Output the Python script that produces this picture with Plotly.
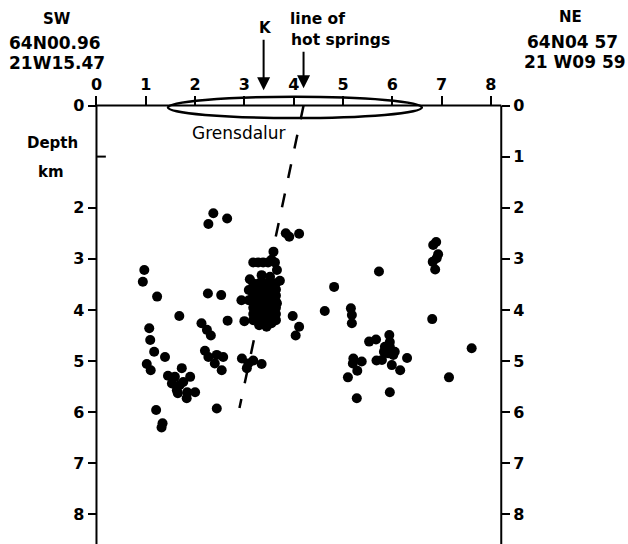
import plotly.graph_objects as go

# ---- data (km along profile, depth km) ----
dist_km = [
    2.37, 2.27, 2.65, 3.84, 3.91, 4.11, 0.97, 0.94, 1.23, 2.26, 2.53, 2.94,
    1.68, 2.13, 2.24, 2.32, 2.66, 3.00, 3.98, 4.11, 4.04, 1.07, 1.09, 1.17,
    1.39, 1.02, 1.10, 2.20, 2.27, 2.44, 2.57, 2.40, 2.54, 2.95, 3.08, 3.18,
    3.35, 3.05, 1.73, 1.59, 1.53, 1.63, 1.76, 1.90, 1.69, 1.83, 2.00, 1.45,
    1.65, 1.84, 1.21, 2.44, 1.34, 1.32,
    3.59, 3.55, 3.18, 3.28, 3.38, 3.48, 3.62, 3.66, 3.11, 3.35, 3.52, 3.72, 3.66,
    3.18, 3.30, 3.42, 3.54, 3.64,
    3.18, 3.30, 3.42, 3.54, 3.64,
    3.18, 3.30, 3.42, 3.54, 3.64,
    3.18, 3.30, 3.42, 3.54, 3.64,
    3.18, 3.30, 3.42, 3.54, 3.64,
    3.18, 3.30, 3.42, 3.54, 3.64,
    3.18, 3.30, 3.42, 3.54, 3.64,
    3.09, 3.09, 3.30, 3.45, 3.55,
    4.63, 4.82,
    6.83, 6.89, 6.93, 6.90, 6.82, 6.87, 5.73, 5.16, 5.18, 5.18, 6.81, 7.61,
    5.53, 5.67, 5.94, 5.85, 5.95, 6.05, 5.92, 6.02, 5.83, 5.95, 5.68, 5.79,
    6.30, 5.99, 6.16, 5.21, 5.20, 5.38, 5.29, 5.10, 7.15, 5.28, 5.95,
]
depth_km = [
    2.11, 2.32, 2.21, 2.50, 2.57, 2.51, 3.22, 3.45, 3.74, 3.68, 3.71, 3.81,
    4.12, 4.26, 4.39, 4.50, 4.21, 4.22, 4.12, 4.33, 4.50, 4.36, 4.59, 4.82,
    4.92, 5.06, 5.18, 4.80, 4.92, 4.88, 4.92, 5.05, 5.18, 4.95, 5.05, 4.99,
    5.06, 5.14, 5.14, 5.31, 5.44, 5.57, 5.41, 5.31, 5.47, 5.73, 5.61, 5.29,
    5.63, 5.61, 5.96, 5.93, 6.22, 6.30,
    2.86, 3.02, 3.07, 3.07, 3.07, 3.07, 3.07, 3.22, 3.40, 3.32, 3.35, 3.43, 3.87,
    3.48, 3.48, 3.48, 3.48, 3.48,
    3.60, 3.60, 3.60, 3.60, 3.60,
    3.72, 3.72, 3.72, 3.72, 3.72,
    3.84, 3.84, 3.84, 3.84, 3.84,
    3.96, 3.96, 3.96, 3.96, 3.96,
    4.08, 4.08, 4.08, 4.08, 4.08,
    4.20, 4.20, 4.20, 4.20, 4.20,
    3.61, 3.81, 4.30, 4.33, 4.26,
    4.02, 3.55,
    2.73, 2.67, 2.91, 2.99, 3.06, 3.21, 3.25, 3.97, 4.10, 4.26, 4.18, 4.75,
    4.62, 4.58, 4.49, 4.72, 4.72, 4.82, 4.85, 4.88, 4.82, 4.63, 4.99, 4.98,
    4.94, 5.08, 5.18, 4.95, 5.05, 5.01, 5.19, 5.32, 5.32, 5.73, 5.61,
]

top_tick_vals = [0, 1, 2, 3, 4, 5, 6, 7, 8]
top_tick_text = ["0", "1", "2", "3", "4", "5", "6", "7", "8"]
left_depth_vals = [0, 2, 3, 4, 5, 6, 7, 8]
left_depth_text = ["0", "2", "3", "4", "5", "6", "7", "8"]
right_depth_vals = [0, 1, 2, 3, 4, 5, 6, 7, 8]
right_depth_text = ["0", "1", "2", "3", "4", "5", "6", "7", "8"]

profile_end_km = 8.21
grensdalur_x = [1.45, 6.60]
grensdalur_y = [-0.17, 0.245]
fault_x = [4.20, 2.90]
fault_y = [0.0, 5.92]
k_km = 3.39
springs_km = 4.20

W, H = 628, 544
X_RANGE = [-1.957, 10.781]
Y_RANGE = [8.581, -2.0646]
FONT = "DejaVu Sans"


def pxx(v):
    return v / W


def pxy(v):
    return 1 - v / H


fig = go.Figure()
fig.add_trace(go.Scatter(x=dist_km, y=depth_km, mode="markers",
                         marker=dict(size=10, color="black", line=dict(width=0)),
                         showlegend=False, hoverinfo="skip"))
fig.add_trace(go.Scatter(x=[None], y=[None], yaxis="y2", showlegend=False))

tickfont = dict(family=FONT, size=16, color="black", weight="bold")
fig.update_layout(
    width=W, height=H, margin=dict(l=0, r=0, t=0, b=0),
    paper_bgcolor="white", plot_bgcolor="white", showlegend=False,
    xaxis=dict(range=X_RANGE, showgrid=False, zeroline=False, showline=False,
               side="top", anchor="free", position=pxy(105.5),
               ticks="outside", ticklen=10, tickwidth=2, tickcolor="black",
               tickvals=top_tick_vals, ticktext=top_tick_text, tickfont=tickfont,
               ticklabelstandoff=-1),
    yaxis=dict(range=Y_RANGE, showgrid=False, zeroline=False, showline=False,
               anchor="free", position=pxx(96.5), side="left",
               ticks="outside", ticklen=9, tickwidth=2, tickcolor="black",
               tickvals=left_depth_vals, ticktext=left_depth_text, tickfont=tickfont),
    yaxis2=dict(range=Y_RANGE, overlaying="y", showgrid=False, zeroline=False,
                showline=False, anchor="free", position=pxx(501), side="right",
                ticks="outside", ticklen=8, tickwidth=2, tickcolor="black",
                tickvals=right_depth_vals, ticktext=right_depth_text, tickfont=tickfont),
)

line = dict(color="black", width=2)
shapes = [
    dict(type="line", x0=0, x1=0, y0=0, y1=Y_RANGE[0], line=line),
    dict(type="line", x0=profile_end_km, x1=profile_end_km, y0=0, y1=Y_RANGE[0], line=line),
    dict(type="line", x0=0, x1=profile_end_km, y0=0, y1=0, line=line),
    dict(type="line", x0=0, x1=0.19, y0=1, y1=1, line=line),
    dict(type="circle", x0=grensdalur_x[0], x1=grensdalur_x[1],
         y0=grensdalur_y[0], y1=grensdalur_y[1], line=dict(color="black", width=2.5)),
    dict(type="line", x0=fault_x[0], y0=fault_y[0], x1=fault_x[1], y1=fault_y[1],
         line=dict(color="black", width=2.5, dash="14px,16px")),
]
for s in shapes:
    s.setdefault("xref", "x")
    s.setdefault("yref", "y")
fig.update_layout(shapes=shapes)


def txt(text, x, y, size, xanchor="center", bold=True):
    fig.add_annotation(text=text, x=pxx(x), y=pxy(y), xref="paper", yref="paper",
                       xanchor=xanchor, yanchor="middle", showarrow=False,
                       font=dict(family=FONT, size=size, color="black",
                                 weight="bold" if bold else "normal"))


txt("SW", 57, 19, 15)
txt("64N00.96", 7, 43, 17, xanchor="left")
txt("21W15.47", 7, 63, 17, xanchor="left")
txt("NE", 570, 17, 15)
txt("64N04 57", 572, 42, 17)
txt("21 W09 59", 575, 62, 17)
txt("K", 265, 28, 15)
txt("line of", 288, 19, 15.5, xanchor="left")
txt("hot springs", 289, 40, 15.5, xanchor="left")
txt("Depth", 52, 143, 15)
txt("km", 51, 172, 15)
txt("Grensdalur", 239, 133, 17, bold=False)

for xk, tip, length in [(k_km, -0.30, 52), (springs_km, -0.34, 38)]:
    fig.add_annotation(x=xk, y=tip, xref="x", yref="y", text="", showarrow=True,
                       ax=0, ay=-length, arrowhead=2, arrowsize=1.3,
                       arrowwidth=2, arrowcolor="black")

fig.write_html("out.html")
